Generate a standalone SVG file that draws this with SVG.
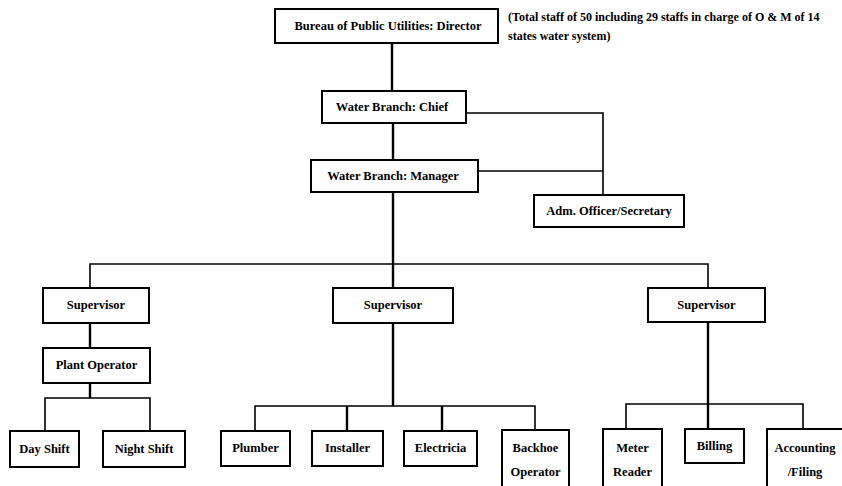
<svg xmlns="http://www.w3.org/2000/svg" width="842" height="486" viewBox="0 0 842 486">
  <style>
    .box { fill: #ffffff; stroke: #000000; stroke-width: 2; }
    .lbl { font-family: "Liberation Serif", "Times New Roman", serif; font-weight: bold; font-size: 12.5px; fill: #000000; text-anchor: middle; }
    .note { font-family: "Liberation Serif", "Times New Roman", serif; font-weight: bold; font-size: 12px; fill: #000000; }
    .v { stroke: #000000; stroke-width: 2.4; fill: none; }
    .h { stroke: #000000; stroke-width: 1.6; fill: none; }
  </style>
  <rect width="842" height="486" fill="#ffffff"/>

  <!-- connectors -->
  <g id="connectors">
    <line class="v" x1="392" y1="43" x2="392" y2="91"/>
    <line class="v" x1="393" y1="123" x2="393" y2="160"/>
    <polyline class="h" points="466,113 603,113 603,195"/>
    <line class="h" x1="478" y1="171" x2="603" y2="171"/>
    <line class="v" x1="393" y1="192" x2="393" y2="288"/>
    <polyline class="h" points="90,288 90,264 708,264 708,288"/>
    <line class="v" x1="90" y1="323" x2="90" y2="348"/>
    <line class="v" x1="90" y1="383" x2="90" y2="398"/>
    <polyline class="h" points="45,431 45,398 150,398 150,431"/>
    <line class="v" x1="393" y1="323" x2="393" y2="406"/>
    <polyline class="h" points="255,431 255,406 535,406 535,430"/>
    <line class="v" x1="347" y1="406" x2="347" y2="431"/>
    <line class="v" x1="442" y1="406" x2="442" y2="431"/>
    <line class="v" x1="708" y1="322" x2="708" y2="429"/>
    <polyline class="h" points="626,429 626,404 803,404 803,429"/>
  </g>

  <g id="director">
    <rect class="box" x="275" y="9" width="223" height="34"/>
    <text class="lbl" x="388" y="30">Bureau of Public Utilities: Director</text>
  </g>
  <g id="staff-note">
    <text class="note" x="508" y="21">(Total staff of 50 including 29 staffs in charge of O &amp; M of 14</text>
    <text class="note" x="508" y="40">states water system)</text>
  </g>
  <g id="chief">
    <rect class="box" x="322" y="91" width="144" height="32"/>
    <text class="lbl" x="392" y="111">Water Branch: Chief</text>
  </g>
  <g id="manager">
    <rect class="box" x="311" y="160" width="167" height="32"/>
    <text class="lbl" x="393" y="180">Water Branch: Manager</text>
  </g>
  <g id="adm-officer">
    <rect class="box" x="534" y="195" width="150" height="32"/>
    <text class="lbl" x="609" y="215">Adm. Officer/Secretary</text>
  </g>

  <g id="supervisor-left">
    <rect class="box" x="43" y="288" width="106" height="35"/>
    <text class="lbl" x="96" y="309">Supervisor</text>
  </g>
  <g id="supervisor-mid">
    <rect class="box" x="333" y="288" width="120" height="35"/>
    <text class="lbl" x="393" y="309">Supervisor</text>
  </g>
  <g id="supervisor-right">
    <rect class="box" x="648" y="288" width="117" height="34"/>
    <text class="lbl" x="706.5" y="309">Supervisor</text>
  </g>

  <g id="plant-operator">
    <rect class="box" x="43" y="348" width="107" height="35"/>
    <text class="lbl" x="96.5" y="369">Plant Operator</text>
  </g>
  <g id="day-shift">
    <rect class="box" x="10" y="431" width="69" height="36"/>
    <text class="lbl" x="44.5" y="453">Day Shift</text>
  </g>
  <g id="night-shift">
    <rect class="box" x="103" y="431" width="82" height="36"/>
    <text class="lbl" x="144" y="453">Night Shift</text>
  </g>

  <g id="plumber">
    <rect class="box" x="221" y="431" width="69" height="35"/>
    <text class="lbl" x="255.5" y="452">Plumber</text>
  </g>
  <g id="installer">
    <rect class="box" x="312" y="431" width="71" height="35"/>
    <text class="lbl" x="347.5" y="452">Installer</text>
  </g>
  <g id="electrician">
    <rect class="box" x="404" y="431" width="73" height="35"/>
    <text class="lbl" x="440.5" y="452">Electricia</text>
  </g>
  <g id="backhoe-operator">
    <rect class="box" x="502" y="430" width="67" height="62"/>
    <text class="lbl" x="535.5" y="452">Backhoe</text>
    <text class="lbl" x="535.5" y="476">Operator</text>
  </g>

  <g id="meter-reader">
    <rect class="box" x="603" y="429" width="59" height="63"/>
    <text class="lbl" x="632.5" y="452">Meter</text>
    <text class="lbl" x="632.5" y="476">Reader</text>
  </g>
  <g id="billing">
    <rect class="box" x="685" y="429" width="59" height="34"/>
    <text class="lbl" x="714.5" y="450">Billing</text>
  </g>
  <g id="accounting">
    <rect class="box" x="767" y="429" width="80" height="63"/>
    <text class="lbl" x="805" y="452">Accounting</text>
    <text class="lbl" x="805" y="476">/Filing</text>
  </g>
</svg>
